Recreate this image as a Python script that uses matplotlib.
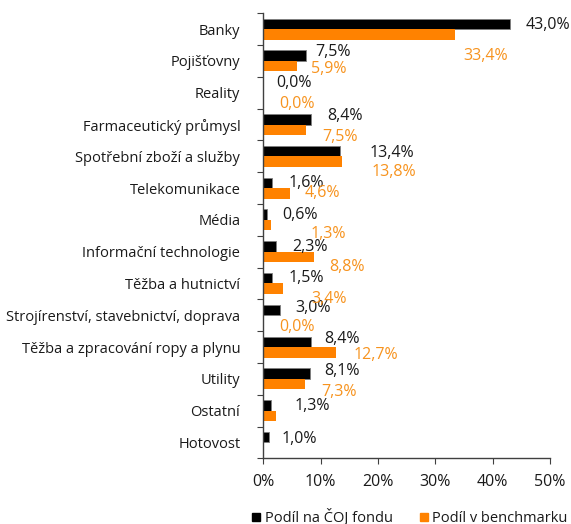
import matplotlib
matplotlib.use('Agg')
import matplotlib.pyplot as plt
import numpy as np
from matplotlib.patches import Rectangle

plt.rcParams['font.family'] = ['Open Sans', 'DejaVu Sans']

categories = ['Banky', 'Pojišťovny', 'Reality', 'Farmaceutický průmysl',
	'Spotřební zboží a služby', 'Telekomunikace', 'Média',
	'Informační technologie', 'Těžba a hutnictví',
	'Strojírenství, stavebnictví, doprava', 'Těžba a zpracování ropy a plynu',
	'Utility', 'Ostatní', 'Hotovost']
fund = [43.0, 7.5, 0.0, 8.4, 13.4, 1.6, 0.6, 2.3, 1.5, 3.0, 8.4, 8.1, 1.3, 1.0]
bench = [33.4, 5.9, 0.0, 7.5, 13.8, 4.6, 1.3, 8.8, 3.4, 0.0, 12.7, 7.3, 2.2, 0.0]
bench_labelled = [True] * 12 + [False, False]
series_names = ['Podíl na ČOJ fondu', 'Podíl v benchmarku']
xticks = [0, 10, 20, 30, 40, 50]

# label offsets from bar end / bar centre, in pixels (x right, y down)
fund_offsets = [(16, 1), (9, -4), (13, -5), (16, -3), (29, 2), (16, 0), (16, 0),
	(16, 1), (17, 0), (15, -2), (13, -3), (15, -3), (24, 1), (13, 2)]
bench_offsets = [(9, 22), (14, 3), (16, 6), (16, 7), (29, 10), (15, 0), (40, 9),
	(16, 10), (29, 10), (16, 6), (17, 3), (16, 8), (0, 0), (0, 0)]

black = '#000000'
orange = '#FF8200'
orange_text = '#F7931E'
text_col = '#1a1a1a'
fs = 10.5
fs_num = 11.5

fig = plt.figure(figsize=(5.71, 5.24), dpi=100)
ax = fig.add_axes([0.4611, 0.1254, 0.5021, 0.8492])

y = np.arange(len(categories))
h = 0.33
b1 = ax.barh(y - h / 2, fund, height=h, color=black, edgecolor='#7f7f7f', linewidth=0.6)
b2 = ax.barh(y + h / 2, bench, height=h, color=orange, linewidth=0)

for i, v in enumerate(fund):
	dx, dy = fund_offsets[i]
	ax.annotate(f'{v:.1f}%'.replace('.', ','), (v, y[i] - h / 2),
		xytext=(dx, -dy), textcoords='offset pixels',
		ha='left', va='center', fontsize=fs_num, color=text_col)

for i, v in enumerate(bench):
	if not bench_labelled[i]:
		continue
	dx, dy = bench_offsets[i]
	ax.annotate(f'{v:.1f}%'.replace('.', ','), (v, y[i] + h / 2),
		xytext=(dx, -dy), textcoords='offset pixels',
		ha='left', va='center', fontsize=fs_num, color=orange_text)

ax.set_xlim(0, 50)
ax.set_ylim(len(categories) - 0.5, -0.5)
ax.set_xticks(xticks)
ax.set_xticklabels([f'{t}%' for t in xticks], fontsize=fs_num, color=text_col)
ax.set_yticks(np.arange(len(categories) + 1) - 0.5, minor=False)
ax.set_yticklabels([])
ax.set_yticks(y, minor=True)
ax.set_yticklabels(categories, minor=True, fontsize=fs, color=text_col)
ax.tick_params(axis='y', which='minor', length=0, pad=16.5)
ax.tick_params(axis='y', which='major', length=4, color='#404040')
ax.tick_params(axis='x', length=4, color='#404040', pad=7)

for s in ['top', 'right']:
	ax.spines[s].set_visible(False)
for s in ['left', 'bottom']:
	ax.spines[s].set_color('#404040')
	ax.spines[s].set_linewidth(1.0)

handles = [Rectangle((0, 0), 1, 1, color=black), Rectangle((0, 0), 1, 1, color=orange)]
fig.legend(handles, series_names, loc='center left', bbox_to_anchor=(0.429, 0.012),
	ncol=2, frameon=False, fontsize=fs, handlelength=0.55, handleheight=0.55,
	handletextpad=0.3, columnspacing=1.85, borderpad=0, labelcolor=text_col)

fig.savefig('out.png', dpi=100)
